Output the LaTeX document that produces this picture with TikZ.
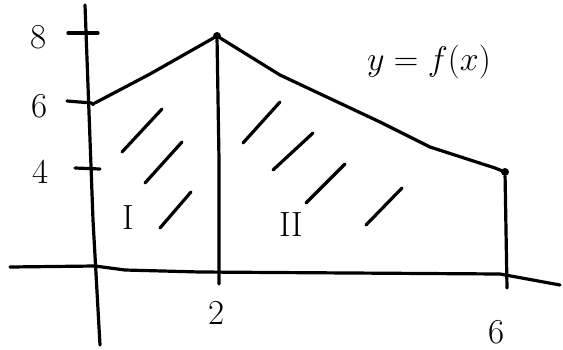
\documentclass[tikz,border=0pt]{standalone}
\usepackage{fix-cm}
\usepackage{tikz}
\usetikzlibrary{positioning}
\begin{document}
\begin{tikzpicture}[
    x=1pt, y=-1pt,
    pen/.style={line width=3.2pt, line cap=round, line join=round},
    hatch/.style={pen},
    lbl/.style={font=\fontsize{35}{40}\selectfont, inner sep=0pt},
    dot/.style={circle, fill, inner sep=0pt, minimum size=8pt},
    ]
\useasboundingbox (0,0) rectangle (563,349);
% axes
\coordinate (ybot) at (100,345);
\coordinate (ytop) at (85,5);
\coordinate (xleft) at (10,267);
\coordinate (xright) at (560,285);
\draw[pen] (ybot) -- (93,220) -- (ytop);
\draw[pen] (xleft) -- (95,266) -- (125,270) -- (200,272) -- (500,274) -- (xright);
% ticks
\draw[pen] (68,33) -- (98,33);
\draw[pen] (67,101) -- (92,103);
\draw[pen] (75,168) -- (100,169);
\node[lbl] (t8) at (39,37) {8};
\node[lbl] (t6) at (40,106) {6};
\node[lbl] (t4) at (41,172) {4};
% curve y = f(x)
\node[dot, minimum size=4pt] (a) at (93,104) {};
\node[dot] (b) at (217,36) {};
\node[dot] (c) at (505,172) {};
\draw[pen] (a) -- (150,74) -- (b);
\draw[pen] (b) -- (280,75) -- (380,122) -- (430,147) -- (495,168) -- (c);
\coordinate (bfoot) at (219,284);
\coordinate (cfoot) at (507,288);
\draw[pen] (b) -- (219,160) -- (bfoot);
\draw[pen] (c) -- (cfoot);
\node[lbl] (x2) at (217,313) {2};
\node[lbl] (x6) at (497,332) {6};
\node[lbl, font=\fontsize{34}{38}\selectfont] (fx) at (429,62) {$y = f(x)$};
% regions
\node[lbl] (r1) at (128,218) {I};
\node[lbl] (r2) at (291,225) {II};
\draw[hatch] (122,152) -- (162,109);
\draw[hatch] (145,183) -- (182,142);
\draw[hatch] (160,228) -- (191,192);
\draw[hatch] (243,143) -- (280,102);
\draw[hatch] (273,170) -- (313,133);
\draw[hatch] (306,203) -- (345,164);
\draw[hatch] (366,225) -- (402,188);
\end{tikzpicture}
\end{document}
